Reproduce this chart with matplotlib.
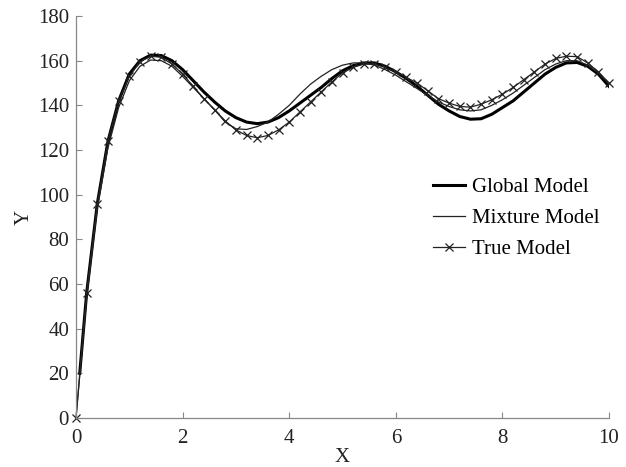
import matplotlib
matplotlib.use("Agg")
import matplotlib.pyplot as plt
import numpy as np

plt.rcParams['font.family'] = ['Liberation Serif', 'DejaVu Serif']

# x grid of the curves (step 0.2)
x = [round(0.2 * i, 1) for i in range(51)]

true_y = [0, 56, 96, 124, 142, 153, 159.5, 162, 161.5, 158.5,
          154, 148.5, 143, 138, 133, 129, 126.5, 125.5, 126.5, 129,
          132.5, 137, 141.5, 146, 150.5, 154.5, 157, 158.5, 158.5, 157,
          155, 152.5, 150, 146.5, 143, 141, 139.5, 139.2, 140.5, 142.5,
          145, 148, 151.5, 155, 158.5, 161, 162, 161.8, 159, 155,
          150]

mixture_y = [0, 54, 94, 121, 139, 151, 157.5, 160.3, 160, 157.5,
             153, 148, 143, 138, 132.5, 129.5, 129.2, 130.5, 132.5, 136,
             140, 145, 149.5, 153, 156, 158, 159, 159, 158, 156,
             153.5, 150.5, 147.5, 144.5, 141.5, 139.5, 138, 137.5, 138, 140,
             142.5, 145.5, 149, 152.5, 156, 158.5, 160, 160, 158, 154.5,
             149.5]

# global model starts a little after 0
global_x = [0.07] + x[1:]
global_y = [20, 56, 96, 124, 142, 154, 160, 162.5, 162.3, 160,
            156, 151, 146, 141.5, 137.5, 134.5, 132.5, 131.8, 132.5, 134.5,
            137.5, 141, 144.5, 148, 152, 155.5, 157.8, 159, 159, 157.5,
            155, 152, 148.5, 144.5, 140.5, 137.5, 135, 133.8, 134, 136,
            139, 142, 146, 150, 154, 157, 159, 159.2, 157.5, 154,
            148.5]

x_ticks = [0, 2, 4, 6, 8, 10]
y_ticks = [0, 20, 40, 60, 80, 100, 120, 140, 160, 180]

fig = plt.figure(figsize=(6.26, 4.67), dpi=100)
ax = fig.add_axes([0.1214, 0.1049, 0.8515, 0.8608])

ax.plot(global_x, global_y, color='black', lw=2.2, label='Global Model')
ax.plot(x, mixture_y, color='#222222', lw=0.9, label='Mixture Model')
ax.plot(x, true_y, color='#222222', lw=0.9, marker='x', markersize=5.5,
        markeredgewidth=0.9, label='True Model', clip_on=False)

ax.set_xlim(0, 10)
ax.set_ylim(0, 180)
ax.set_xticks(x_ticks)
ax.set_yticks(y_ticks)

for s in ['top', 'right']:
    ax.spines[s].set_visible(False)
for s in ['left', 'bottom']:
    ax.spines[s].set_color('#888888')
    ax.spines[s].set_linewidth(0.9)

ax.tick_params(direction='in', length=4, color='#888888', labelsize=15,
               labelcolor='#222222')
ax.tick_params(axis='y', pad=5)
ax.tick_params(axis='x', pad=8)

ax.set_xlabel('X', fontsize=15, color='#222222', labelpad=0)
ax.set_ylabel('Y', fontsize=15, color='#222222', labelpad=3)

ax.legend(loc='upper left', bbox_to_anchor=(0.67, 0.598), frameon=False,
          fontsize=15, handlelength=1.55, handletextpad=0.3,
          labelspacing=0.55, borderpad=0, borderaxespad=0,
          markerscale=1.0, numpoints=1)

fig.savefig('out.png', dpi=100)
